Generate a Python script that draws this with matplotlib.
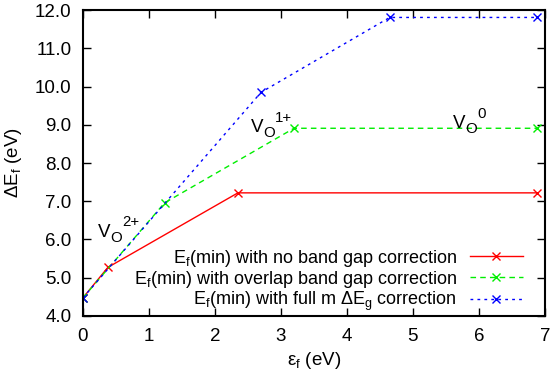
import matplotlib
matplotlib.use("Agg")
import matplotlib.pyplot as plt

plt.rcParams['font.family'] = ['Liberation Sans', 'DejaVu Sans']
plt.rcParams['mathtext.fontset'] = 'custom'
plt.rcParams['mathtext.rm'] = 'Liberation Sans'

# data
x_none = [0.0, 0.38, 2.35, 6.88]
y_none = [4.47, 5.27, 7.22, 7.22]

x_overlap = [0.0, 1.24, 3.20, 6.88]
y_overlap = [4.47, 6.96, 8.91, 8.91]

x_full = [0.0, 2.70, 4.65, 6.88]
y_full = [4.47, 9.85, 11.81, 11.81]

labels = [
    r'E$\mathregular{_f}$(min) with no band gap correction',
    r'E$\mathregular{_f}$(min) with overlap band gap correction',
    r'E$\mathregular{_f}$(min) with full m $\mathregular{\Delta}$E$\mathregular{_g}$ correction',
]

# charge state labels: (x, y, superscript)
state_x = [0.23, 2.55, 5.61]
state_y = [6.07, 8.81, 8.91]
state_sup = ['2+', '1+', '0']

fs = 13.5


def state_label(ax, x, y, sup):
    # gnuplot style V_O^{q}: big superscript placed after the subscript
    ax.annotate('V', (x, y), fontsize=fs, va='baseline')
    ax.annotate('O', (x, y), xytext=(8.6, -3.6), textcoords='offset points',
                fontsize=fs * 0.8, va='baseline')
    ax.annotate(sup, (x, y), xytext=(17.3, 7.5), textcoords='offset points',
                fontsize=fs * 0.8, va='baseline')


fig = plt.figure(figsize=(5.52, 3.77), dpi=100)
ax = fig.add_axes([0.150, 0.162, 0.837, 0.811])

ax.plot(x_none, y_none, color='#ff0000', lw=1, ls='-', marker='x', ms=6,
        label=labels[0])
ax.plot(x_overlap, y_overlap, color='#00ee00', lw=1, ls=(0, (4, 3)), marker='x',
        ms=6, label=labels[1])
ax.plot(x_full, y_full, color='#0000ff', lw=1, ls=(0, (2, 3)), marker='x', ms=6,
        label=labels[2])

ax.set_xlim(0, 7)
ax.set_ylim(4, 12)
ax.set_xticks(range(0, 8))
ax.set_yticks(range(4, 13))
ax.set_yticklabels([f'{v:.1f}' for v in range(4, 13)])
ax.tick_params(direction='in', top=True, right=True, labelsize=fs, length=6,
               width=1, pad=8)
ax.tick_params(axis='x', pad=9)
for s in ax.spines.values():
    s.set_linewidth(1.5)

ax.set_xlabel(r'ε$\mathregular{_f}$ (eV)', fontsize=fs, labelpad=3)
ax.set_ylabel(r'$\mathregular{\Delta}$E$\mathregular{_f}$ (eV)', fontsize=fs,
              labelpad=8)

for x, y, sup in zip(state_x, state_y, state_sup):
    state_label(ax, x, y, sup)

ax.legend(loc='lower right', frameon=False, markerfirst=False, fontsize=13,
          handlelength=2.9, handletextpad=0.72, labelspacing=0.0,
          borderpad=0, borderaxespad=0, bbox_to_anchor=(0.952, 0.01))

fig.savefig('out.png', dpi=100)
